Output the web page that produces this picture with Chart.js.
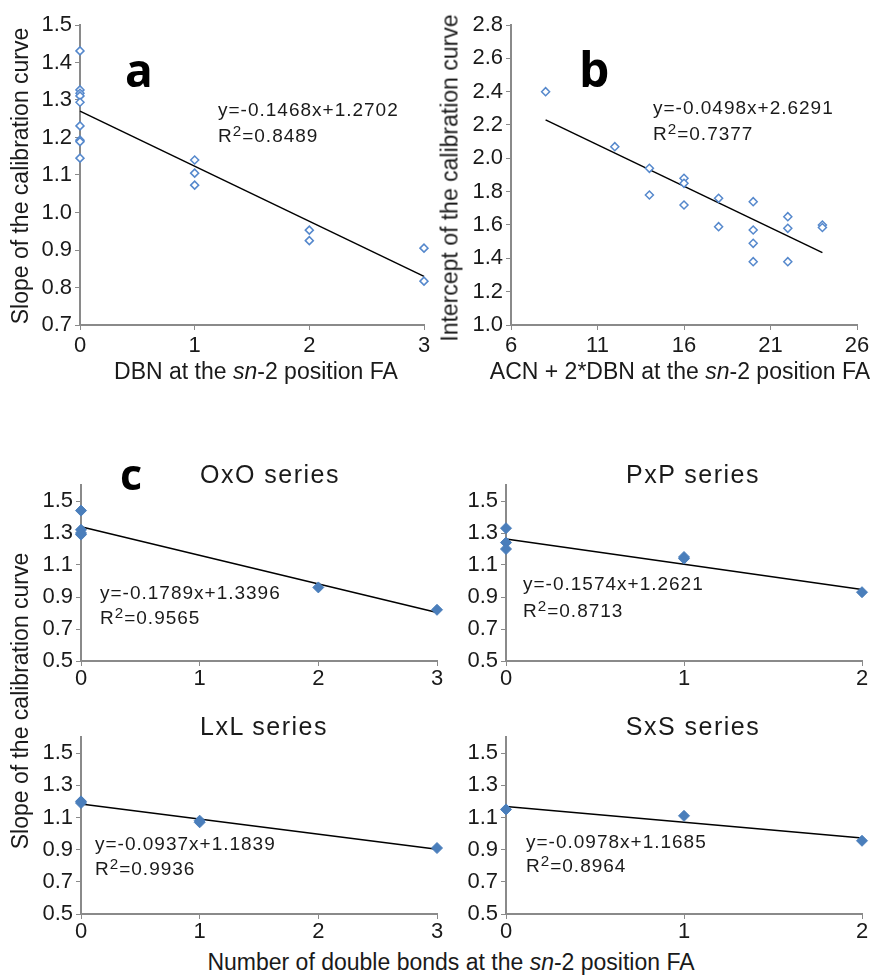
<!DOCTYPE html>
<html>
<head>
<meta charset="utf-8">
<script src="https://cdn.jsdelivr.net/npm/chart.js@4.4.1/dist/chart.umd.min.js"></script>
<style>
  body { margin: 0; background: #fff; }
  #fig { position: relative; width: 874px; height: 975px; overflow: hidden;
         font-family: "Liberation Sans", Arial, sans-serif; color: #1a1a1a; }
  #fig canvas { position: absolute; }
  .t { position: absolute; white-space: nowrap; line-height: 1; }
  .eq { position: absolute; white-space: nowrap; font-size: 19px; letter-spacing: 1px; }
  .eq span { position: relative; top: -0.42em; font-size: 0.8em; }
  .ttl { font-size: 25px; letter-spacing: 1.5px; transform: translateX(-50%); }
  .ax { font-size: 23px; transform: translateX(-50%); }
  .axv { font-size: 23px; transform: translate(-50%, -50%) rotate(-90deg); }
  .lt { font-family: "Open Sans", "DejaVu Sans", sans-serif; font-weight: 700; color: #000; }
</style>
</head>
<body>
<div id="fig">
  <canvas id="cA" width="437" height="400" style="left:0;top:0"></canvas>
  <canvas id="cB" width="437" height="400" style="left:437px;top:0"></canvas>
  <canvas id="cO" width="445" height="262" style="left:0;top:440px"></canvas>
  <canvas id="cP" width="429" height="262" style="left:445px;top:440px"></canvas>
  <canvas id="cL" width="445" height="240" style="left:0;top:700px"></canvas>
  <canvas id="cS" width="429" height="240" style="left:445px;top:700px"></canvas>

  <div class="t lt" style="left:125px;top:46px;font-size:46px">a</div>
  <div class="t lt" style="left:579px;top:45px;font-size:48px">b</div>
  <div class="t lt" style="left:120px;top:452px;font-size:43px">c</div>

  <div class="eq" style="left:218px;top:97px;line-height:26px">y=-0.1468x+1.2702<br>R<span>2</span>=0.8489</div>
  <div class="eq" style="left:653px;top:95px;line-height:26px">y=-0.0498x+2.6291<br>R<span>2</span>=0.7377</div>
  <div class="eq" style="left:100px;top:580px;line-height:25px">y=-0.1789x+1.3396<br>R<span>2</span>=0.9565</div>
  <div class="eq" style="left:523px;top:570px;line-height:27px">y=-0.1574x+1.2621<br>R<span>2</span>=0.8713</div>
  <div class="eq" style="left:95px;top:831px;line-height:25px">y=-0.0937x+1.1839<br>R<span>2</span>=0.9936</div>
  <div class="eq" style="left:526px;top:830px;line-height:24px">y=-0.0978x+1.1685<br>R<span>2</span>=0.8964</div>

  <div class="t ttl" style="left:270px;top:462px">OxO series</div>
  <div class="t ttl" style="left:693px;top:462px">PxP series</div>
  <div class="t ttl" style="left:264px;top:714px">LxL series</div>
  <div class="t ttl" style="left:693px;top:714px">SxS series</div>

  <div class="t axv" style="left:20px;top:176px">Slope of the calibration curve</div>
  <div class="t axv" style="left:450px;top:178px">Intercept of the calibration curve</div>
  <div class="t axv" style="left:20px;top:701px">Slope of the calibration curve</div>
  <div class="t ax" style="left:256px;top:360px">DBN at the <i>sn</i>-2 position FA</div>
  <div class="t ax" style="left:680px;top:360px">ACN + 2*DBN at the <i>sn</i>-2 position FA</div>
  <div class="t ax" style="left:451px;top:951px">Number of double bonds at the <i>sn</i>-2 position FA</div>
</div>

<script>
// panel a: DBN vs slope
var aX = [0, 0, 0, 0, 0, 0, 0, 0, 0, 1, 1, 1, 2, 2, 3, 3];
var aY = [1.431, 1.327, 1.318, 1.311, 1.294, 1.231, 1.193, 1.189, 1.145, 1.140, 1.105, 1.073, 0.953, 0.925, 0.905, 0.817];
var aTrendX = [0, 3];
var aTrendY = [1.2702, 0.8298];
var aXTicks = [0, 1, 2, 3];
var aYTicks = [0.7, 0.8, 0.9, 1.0, 1.1, 1.2, 1.3, 1.4, 1.5];

// panel b: ACN + 2*DBN vs intercept
var bX = [8, 12, 14, 14, 16, 16, 16, 18, 18, 20, 20, 20, 20, 22, 22, 22, 24, 24];
var bY = [2.40, 2.07, 1.94, 1.78, 1.88, 1.85, 1.72, 1.76, 1.59, 1.74, 1.57, 1.49, 1.38, 1.65, 1.58, 1.38, 1.60, 1.585];
var bTrendX = [8, 24];
var bTrendY = [2.2307, 1.4339];
var bXTicks = [6, 11, 16, 21, 26];
var bYTicks = [1.0, 1.2, 1.4, 1.6, 1.8, 2.0, 2.2, 2.4, 2.6, 2.8];

// panel c: series
var oxoX = [0, 0, 0, 0, 2, 3];
var oxoY = [1.44, 1.32, 1.30, 1.29, 0.96, 0.82];
var oxoTrendY = [1.3396, 0.8029];
var pxpX = [0, 0, 0, 1, 1, 2];
var pxpY = [1.33, 1.24, 1.20, 1.15, 1.14, 0.93];
var pxpTrendY = [1.2621, 0.9473];
var lxlX = [0, 0, 1, 1, 3];
var lxlY = [1.20, 1.19, 1.08, 1.07, 0.91];
var lxlTrendY = [1.1839, 0.9028];
var sxsX = [0, 1, 2];
var sxsY = [1.15, 1.11, 0.955];
var sxsTrendY = [1.1685, 0.9729];
var cYTicks = [0.5, 0.7, 0.9, 1.1, 1.3, 1.5];
var cYMax = 1.6;
var c3XTicks = [0, 1, 2, 3];
var c2XTicks = [0, 1, 2];

var FONT = '"Liberation Sans", Arial, sans-serif';
var AXIS = '#8a8a8a';

function pts(xs, ys) {
    return xs.map(function(x, i){ return {x: x, y: ys[i]}; });
}

function makeChart(id, px, py, tx, ty, xTicks, yTicks, yMax, box, filled) {
    var ctx = document.getElementById(id).getContext('2d');
    return new Chart(ctx, {
        type: 'scatter',
        data: {
            datasets: [{
                data: pts(px, py),
                pointStyle: 'rectRot',
                pointRadius: filled ? 5.5 : 4,
                pointBackgroundColor: filled ? '#4a7ebb' : '#ffffff',
                pointBorderColor: filled ? '#4a7ebb' : '#5588cc',
                pointBorderWidth: filled ? 1 : 1.5,
                clip: false,
                order: 0
            }, {
                type: 'line',
                data: pts(tx, ty),
                borderColor: '#000',
                borderWidth: 1.5,
                pointRadius: 0,
                fill: false,
                tension: 0,
                clip: false,
                order: 1
            }]
        },
        options: {
            responsive: false,
            animation: false,
            events: [],
            layout: { padding: { top: box.top, right: box.right, left: 0, bottom: 0 } },
            plugins: { legend: { display: false }, tooltip: { enabled: false } },
            scales: {
                x: {
                    type: 'linear',
                    min: xTicks[0],
                    max: xTicks[xTicks.length - 1],
                    afterBuildTicks: function(s){ s.ticks = xTicks.map(function(v){ return {value: v}; }); },
                    afterFit: function(s){ s.height = box.xh; },
                    grid: { drawOnChartArea: false, color: AXIS, tickLength: 5, lineWidth: 1 },
                    border: { color: AXIS, width: 2 },
                    ticks: {
                        font: { family: FONT, size: 22 }, color: '#1a1a1a',
                        padding: box.xpad, maxRotation: 0, autoSkip: false,
                        callback: function(v){ return String(v); }
                    }
                },
                y: {
                    min: yTicks[0],
                    max: yMax,
                    afterBuildTicks: function(s){ s.ticks = yTicks.map(function(v){ return {value: v}; }); },
                    afterFit: function(s){ s.width = box.yw; },
                    grid: { drawOnChartArea: false, color: AXIS, tickLength: 5, lineWidth: 1 },
                    border: { color: AXIS, width: 2 },
                    ticks: {
                        font: { family: FONT, size: 22 }, color: '#1a1a1a',
                        padding: 3, autoSkip: false,
                        callback: function(v){ return Number(v).toFixed(1); }
                    }
                }
            }
        }
    });
}

makeChart('cA', aX, aY, aTrendX, aTrendY, aXTicks, aYTicks, 1.5,
    {top: 25, right: 13, yw: 80, xh: 75, xpad: 3}, false);
makeChart('cB', bX, bY, bTrendX, bTrendY, bXTicks, bYTicks, 2.8,
    {top: 25, right: 17, yw: 74, xh: 75, xpad: 3}, false);
makeChart('cO', oxoX, oxoY, [0, 3], oxoTrendY, c3XTicks, cYTicks, cYMax,
    {top: 45, right: 8, yw: 81, xh: 41, xpad: 0}, true);
makeChart('cP', pxpX, pxpY, [0, 2], pxpTrendY, c2XTicks, cYTicks, cYMax,
    {top: 45, right: 12, yw: 61, xh: 41, xpad: 0}, true);
makeChart('cL', lxlX, lxlY, [0, 3], lxlTrendY, c3XTicks, cYTicks, cYMax,
    {top: 37, right: 8, yw: 81, xh: 26, xpad: 0}, true);
makeChart('cS', sxsX, sxsY, [0, 2], sxsTrendY, c2XTicks, cYTicks, cYMax,
    {top: 37, right: 12, yw: 61, xh: 26, xpad: 0}, true);
</script>
</body>
</html>
